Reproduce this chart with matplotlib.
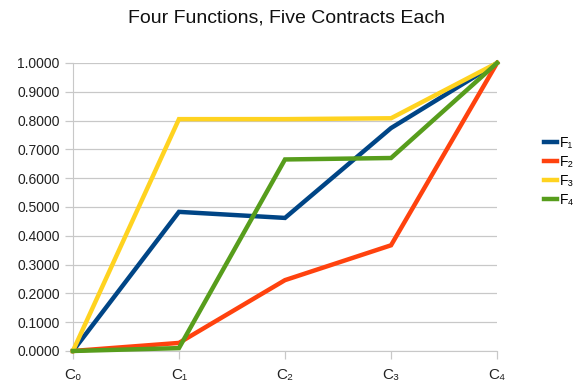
import matplotlib
matplotlib.use("Agg")
import matplotlib.pyplot as plt

categories = ["C₀", "C₁", "C₂", "C₃", "C₄"]
f1 = [0.0, 0.483, 0.462, 0.774, 1.0]
f2 = [0.0, 0.028, 0.246, 0.367, 1.0]
f3 = [0.0, 0.805, 0.805, 0.808, 1.0]
f4 = [0.0, 0.010, 0.665, 0.670, 1.0]
series_names = ["F₁", "F₂", "F₃", "F₄"]
colors = ["#004586", "#ff420e", "#ffd320", "#579d1c"]
yticks = [i / 10 for i in range(11)]

plt.rcParams['font.family'] = ['Liberation Sans', 'DejaVu Sans']
fig = plt.figure(figsize=(5.74, 3.83), dpi=100)
ax = fig.add_axes([0.127, 0.0836, 0.739, 0.752])

x = list(range(len(categories)))
for vals, name, c in zip([f1, f2, f3, f4], series_names, colors):
    ax.plot(x, vals, color=c, lw=3.2, label=name, solid_joinstyle='miter', clip_on=False, zorder=3)

ax.set_xlim(0, 4)
ax.set_ylim(0, 1)
ax.set_xticks(x)
ax.set_xticklabels(categories, fontsize=11)
ax.set_yticks(yticks)
ax.set_yticklabels([f"{v:.4f}" for v in yticks], fontsize=10)
ax.yaxis.grid(True, color="#c8c8c8", lw=0.9)
ax.set_axisbelow(True)
for s in ["top", "right"]:
    ax.spines[s].set_visible(False)
for s in ["left", "bottom"]:
    ax.spines[s].set_color("#c8c8c8")
ax.tick_params(axis='both', colors="#c8c8c8", labelcolor="#222222", length=6, width=0.9)
ax.tick_params(axis='x', pad=6)

fig.suptitle("Four Functions, Five Contracts Each", fontsize=14, y=0.975, color="#111111")
fig.legend(loc="upper left", bbox_to_anchor=(0.948, 0.646), frameon=False,
           fontsize=10, handlelength=0.9, handletextpad=0.25, labelspacing=0.36,
           borderaxespad=0, borderpad=0)
fig.savefig("out.png", dpi=100)
